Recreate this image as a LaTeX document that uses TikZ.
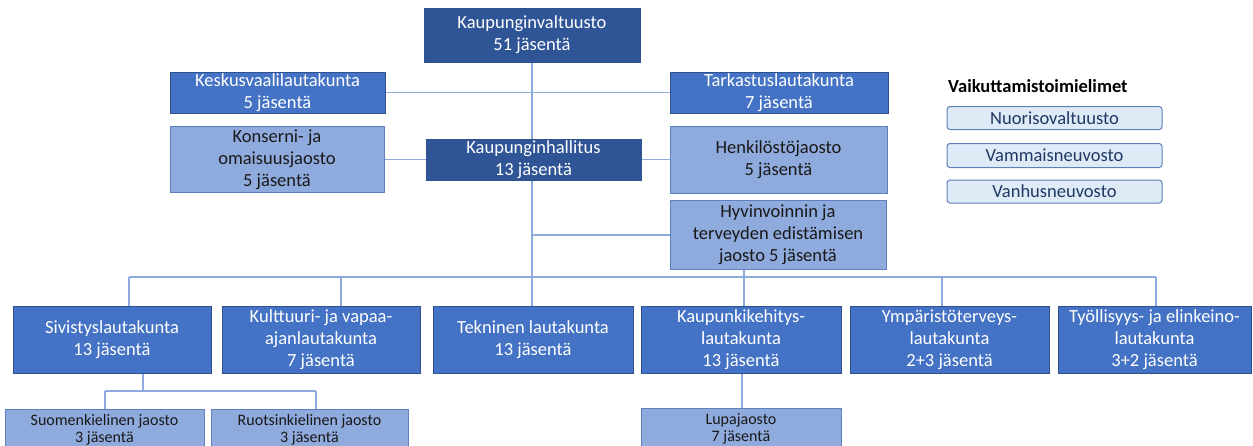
\documentclass[tikz,border=0pt]{standalone}
\usepackage{fontspec}
\setmainfont{Carlito}
\usetikzlibrary{backgrounds}
\definecolor{navy}{HTML}{2F5597}
\definecolor{mid}{HTML}{4472C4}
\definecolor{lite}{HTML}{8FAADC}
\definecolor{edge}{HTML}{2F528F}
\definecolor{liteedge}{HTML}{5F80BE}
\definecolor{wire}{HTML}{8FAADC}
\definecolor{pale}{HTML}{DEEBF7}
\definecolor{paleedge}{HTML}{5F7FB8}
\definecolor{paletext}{HTML}{1F3864}
\tikzset{
  box/.style={rectangle, inner sep=0pt, align=center, line width=0.9pt, font=\fontsize{18.5}{22}\selectfont},
  darkbox/.style={box, fill=navy, draw=edge, text=white},
  midbox/.style={box, fill=mid, draw=edge, text=white},
  litebox/.style={box, fill=lite, draw=liteedge, text=black!90},
  subbox/.style={litebox, font=\fontsize{16}{17.5}\selectfont},
  palebox/.style={rectangle, rounded corners=3pt, fill=pale, draw=paleedge, line width=1pt, text=paletext, font=\fontsize{18.5}{20}\selectfont, inner sep=0pt},
  wireline/.style={draw=wire, line width=1.3pt},
}
\begin{document}
\begin{tikzpicture}[x=1pt,y=-1pt]
\clip (0,0) rectangle (1253,445);
\coordinate (b1) at (129,277);
\coordinate (b2) at (341,277);
\coordinate (b3) at (532,277);
\coordinate (b4) at (744,277);
\coordinate (b5) at (942,277);
\coordinate (b6) at (1156,277);
\coordinate (h1) at (532,235);
\coordinate (s1) at (143,391);
\coordinate (s2) at (105,391);
\coordinate (s3) at (316,391);
\coordinate (l1) at (742,380);
% nodes
\node[darkbox, minimum width=216pt, minimum height=54pt] (kv) at (532,35) {Kaupunginvaltuusto\\51 jäsentä};
\node[midbox, minimum width=215pt, minimum height=41pt] (kvl) at (277.5,92.5) {Keskusvaalilautakunta\\5 jäsentä};
\node[midbox, minimum width=218pt, minimum height=41pt] (tark) at (779,92.5) {Tarkastuslautakunta\\7 jäsentä};
\node[litebox, minimum width=214pt, minimum height=66pt] (kons) at (277,159.5) {Konserni- ja\\omaisuusjaosto\\5 jäsentä};
\node[darkbox, minimum width=215pt, minimum height=41pt] (kh) at (533.5,159.5) {Kaupunginhallitus\\13 jäsentä};
\node[litebox, minimum width=217pt, minimum height=67pt] (henk) at (778.5,159.5) {Henkilöstöjaosto\\5 jäsentä};
\node[litebox, minimum width=216pt, minimum height=69pt] (hyv) at (778,234.5) {Hyvinvoinnin ja\\terveyden edistämisen\\jaosto 5 jäsentä};
\node[midbox, minimum width=198pt, minimum height=67pt] (siv) at (112,339.5) {Sivistyslautakunta\\13 jäsentä};
\node[midbox, minimum width=198pt, minimum height=67pt] (kult) at (321,339.5) {Kulttuuri- ja vapaa-\\ajanlautakunta\\7 jäsentä};
\node[midbox, minimum width=200pt, minimum height=67pt] (tek) at (533,339.5) {Tekninen lautakunta\\13 jäsentä};
\node[midbox, minimum width=200pt, minimum height=67pt] (kk) at (741,339.5) {Kaupunkikehitys-\\lautakunta\\13 jäsentä};
\node[midbox, minimum width=199pt, minimum height=67pt] (ymp) at (949.5,339.5) {Ympäristöterveys-\\lautakunta\\2+3 jäsentä};
\node[midbox, minimum width=193pt, minimum height=67pt] (tyo) at (1154.5,339.5) {Työllisyys- ja elinkeino-\\lautakunta\\3+2 jäsentä};
\node[subbox, minimum width=199pt, minimum height=42pt] (suo) at (104.5,430) {Suomenkielinen jaosto\\3 jäsentä};
\node[subbox, minimum width=197pt, minimum height=42pt] (ruo) at (309.5,430) {Ruotsinkielinen jaosto\\3 jäsentä};
\node[subbox, minimum width=200pt, minimum height=42pt] (lupa) at (741,429) {Lupajaosto\\7 jäsentä};
% vaikuttamistoimielimet
\node[anchor=west, inner sep=0pt, font=\fontsize{18.5}{20}\selectfont\bfseries, text=black] (vt) at (948,86) {Vaikuttamistoimielimet};
\node[palebox, minimum width=215pt, minimum height=23pt] (nuo) at (1054.5,118) {Nuorisovaltuusto};
\node[palebox, minimum width=215pt, minimum height=24pt] (vam) at (1054.5,155.5) {Vammaisneuvosto};
\node[palebox, minimum width=215pt, minimum height=23pt] (van) at (1054.5,191.5) {Vanhusneuvosto};
% connectors (behind)
\begin{scope}[on background layer]
\fill[white] (0,0) rectangle (1253,445);
\path[wireline] (kv.south) -- (kv.south |- tek.north);
\path[wireline] (kvl.east) -- (tark.west);
\path[wireline] (kons.east) -- (kh.west);
\path[wireline] (kh.east) -- (henk.west);
\path[wireline] (h1) -- (h1 -| hyv.west);
\path[wireline] (b1) -- (b6);
\path[wireline] (b1) -- (b1 |- siv.north);
\path[wireline] (b2) -- (b2 |- kult.north);
\path[wireline] (b4 |- hyv.south) -- (b4 |- kk.north);
\path[wireline] (b5) -- (b5 |- ymp.north);
\path[wireline] (b6) -- (b6 |- tyo.north);
\path[wireline] (s1 |- siv.south) -- (s1);
\path[wireline] (s2) -- (s3);
\path[wireline] (s2) -- (s2 |- suo.north);
\path[wireline] (s3) -- (s3 |- ruo.north);
\path[wireline] (l1 |- kk.south) -- (l1 |- lupa.north);
\end{scope}
\end{tikzpicture}
\end{document}
